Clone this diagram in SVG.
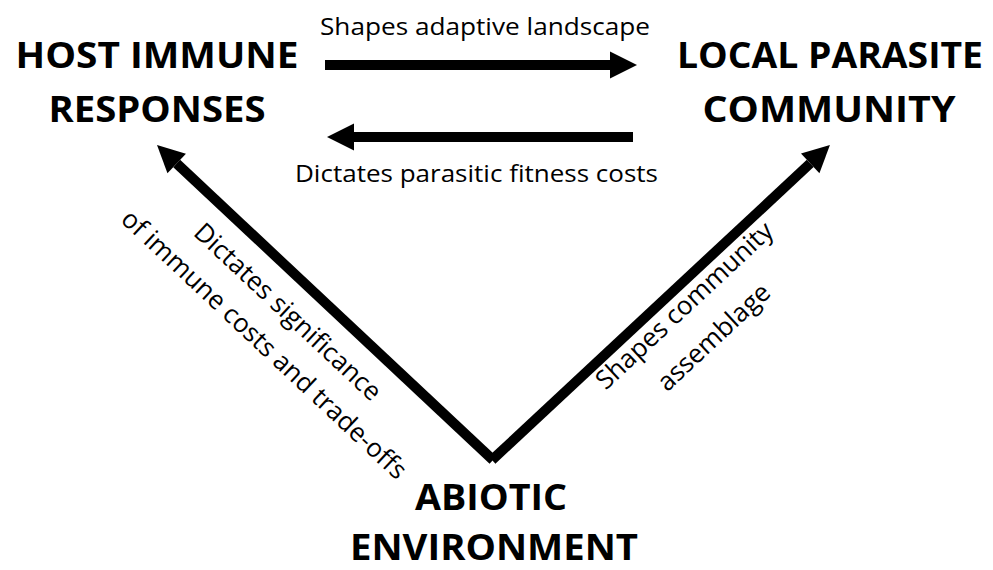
<svg xmlns="http://www.w3.org/2000/svg" width="993" height="570" viewBox="0 0 993 570">
<defs>
<style>
.node{font-family:"Open Sans","Liberation Sans",sans-serif;font-weight:bold;font-size:35px;fill:#000;text-anchor:middle}
.lbl{font-family:"Open Sans","Liberation Sans",sans-serif;font-size:24px;fill:#000;text-anchor:middle}
.dl{font-size:26px}
.ln{stroke:#000;stroke-width:10;fill:none;stroke-linecap:butt}
</style>
<marker id="ah" markerUnits="userSpaceOnUse" markerWidth="28" markerHeight="28" refX="0" refY="13.5" orient="auto" overflow="visible">
<path d="M0,0 L27,13.5 L0,27 Z" fill="#000"/>
</marker>
</defs>
<rect width="993" height="570" fill="#fff"/>
<g id="host">
<text class="node" x="157" y="68" textLength="283" lengthAdjust="spacingAndGlyphs">HOST IMMUNE</text>
<text class="node" x="157" y="122" textLength="217" lengthAdjust="spacingAndGlyphs">RESPONSES</text>
</g>
<g id="parasite">
<text class="node" x="830" y="68" textLength="306" lengthAdjust="spacingAndGlyphs">LOCAL PARASITE</text>
<text class="node" x="829" y="122" textLength="253" lengthAdjust="spacingAndGlyphs">COMMUNITY</text>
</g>
<g id="abiotic">
<text class="node" x="491" y="510" textLength="152" lengthAdjust="spacingAndGlyphs">ABIOTIC</text>
<text class="node" x="494" y="560" textLength="288" lengthAdjust="spacingAndGlyphs">ENVIRONMENT</text>
</g>
<g id="connectors">
<line class="ln" x1="325" y1="65" x2="610" y2="65" marker-end="url(#ah)"/>
<line class="ln" x1="633" y1="137" x2="354" y2="137" marker-end="url(#ah)"/>
<line class="ln" x1="493" y1="460" x2="176.7" y2="163.5" marker-end="url(#ah)"/>
<line class="ln" x1="492" y1="460" x2="810.2" y2="163.4" marker-end="url(#ah)"/>
<text class="lbl" x="485" y="35" textLength="330" lengthAdjust="spacingAndGlyphs">Shapes adaptive landscape</text>
<text class="lbl" x="476.5" y="182" textLength="363" lengthAdjust="spacingAndGlyphs">Dictates parasitic fitness costs</text>
<g transform="translate(493,460) rotate(43.15)">
<text class="lbl dl" x="-251" y="41">Dictates significance</text>
<text class="lbl dl" x="-246" y="81">of immune costs and trade-offs</text>
</g>
<g transform="translate(492,460) rotate(-42.99)">
<text class="lbl dl" x="246" y="27">Shapes community</text>
<text class="lbl dl" x="246" y="70">assemblage</text>
</g>
</g>
</svg>
